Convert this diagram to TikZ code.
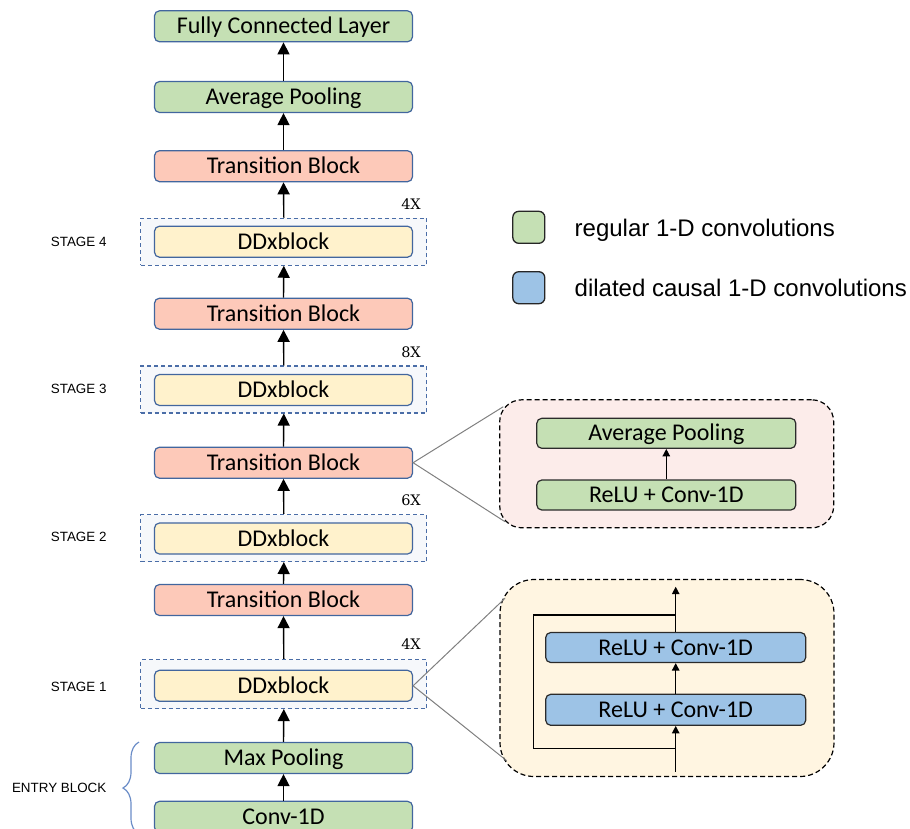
\documentclass[tikz,border=0pt]{standalone}
\usepackage{fontspec}
\setmainfont{Carlito}
\newfontfamily\arialf{Liberation Sans}
\newfontfamily\seriff{DejaVu Serif}
\usetikzlibrary{arrows.meta,decorations.pathreplacing}
\definecolor{greenf}{HTML}{C5E0B4}
\definecolor{pinkf}{HTML}{FDC9B9}
\definecolor{yellowf}{HTML}{FFF2CC}
\definecolor{bluef}{HTML}{9DC3E6}
\definecolor{bordc}{HTML}{42669E}
\definecolor{dashc}{HTML}{4A6DA7}
\definecolor{stagef}{HTML}{F6F8FB}
\definecolor{panelpink}{HTML}{FCECEA}
\definecolor{panelyellow}{HTML}{FFF5E1}
\definecolor{innerc}{HTML}{2B2B2B}
\definecolor{zoomc}{HTML}{808080}
\definecolor{bracec}{HTML}{6A8CC7}
\begin{document}
\begin{tikzpicture}[x=1pt,y=-1pt,
  blk/.style={draw=bordc, line width=1.2pt, rounded corners=5pt, minimum width=258pt, minimum height=31pt, inner sep=0pt, font=\fontsize{24}{28}\selectfont, text height=17pt, text depth=2pt},
  gbox/.style={blk, fill=greenf},
  pbox/.style={blk, fill=pinkf},
  ybox/.style={blk, fill=yellowf},
  stagebox/.style={draw=dashc, dash pattern=on 4pt off 3pt, line width=1.1pt, fill=stagef, minimum width=286pt, minimum height=47pt, inner sep=0pt},
  arr/.style={-{Triangle[width=12pt,length=12pt]}, line width=1.4pt},
  sarr/.style={-{Triangle[width=7.5pt,length=7.5pt]}, line width=1.3pt},
  stagelbl/.style={font=\arialf\fontsize{13.4}{16}\selectfont, inner sep=0pt},
  rep/.style={font=\seriff\fontsize{14.5}{18}\selectfont, anchor=east, inner sep=0pt},
  panel/.style={draw=black, dash pattern=on 5pt off 3pt, line width=1.2pt, inner sep=0pt},
  ibox/.style={draw=innerc, line width=1.2pt, rounded corners=5pt, minimum width=259pt, minimum height=30pt, inner sep=0pt, font=\fontsize{24}{28}\selectfont, text height=17pt, text depth=2pt},
  legsq/.style={draw=black!85, line width=1.3pt, rounded corners=6pt, minimum size=32pt, inner sep=0pt},
  legtxt/.style={font=\arialf\fontsize{24}{29}\selectfont, inner sep=0pt, anchor=base west},
  zoomline/.style={draw=zoomc, line width=1pt}
]
\useasboundingbox (0,0) rectangle (910,828);
\clip (0,0) rectangle (910,828);

% main column
\node[gbox] (fc) at (283.5,26.3) {Fully Connected Layer};
\node[gbox] (ap) at (283.5,97) {Average Pooling};
\node[pbox] (tb4) at (283.5,166.2) {Transition Block};
\node[stagebox] (s4) at (283.8,241.7) {};
\node[ybox] (dd4) at (283.5,241.7) {DDxblock};
\node[pbox] (tb3) at (283.5,313.7) {Transition Block};
\node[stagebox] (s3) at (283.8,389.5) {};
\node[ybox] (dd3) at (283.5,390) {DDxblock};
\node[pbox] (tb2) at (283.5,462.7) {Transition Block};
\node[stagebox] (s2) at (283.8,538) {};
\node[ybox] (dd2) at (283.5,538.5) {DDxblock};
\node[pbox] (tb1) at (283.5,600) {Transition Block};
\node[stagebox, minimum height=49pt] (s1) at (283.8,684) {};
\node[ybox] (dd1) at (283.5,685.8) {DDxblock};
\node[gbox] (mp) at (283.5,758) {Max Pooling};
\node[gbox] (cv) at (283.5,816.8) {Conv-1D};

\draw[arr] (cv.north) -- (mp.south);
\draw[arr] (mp.north) -- (s1.south);
\draw[arr] (s1.north) -- (tb1.south);
\draw[arr] (tb1.north) -- (s2.south);
\draw[arr] (s2.north) -- (tb2.south);
\draw[arr] (tb2.north) -- (s3.south);
\draw[arr] (s3.north) -- (tb3.south);
\draw[arr] (tb3.north) -- (s4.south);
\draw[arr] (s4.north) -- (tb4.south);
\draw[arr] (tb4.north) -- (ap.south);
\draw[arr] (ap.north) -- (fc.south);

% repeat labels
\node[rep] (r4) at (421,204) {4X};
\node[rep] (r3) at (421,352.7) {8X};
\node[rep] (r2) at (421,500.7) {6X};
\node[rep] (r1) at (421,644) {4X};

% stage labels
\node[stagelbl] (l4) at (78.7,242) {STAGE 4};
\node[stagelbl] (l3) at (78.7,389.3) {STAGE 3};
\node[stagelbl] (l2) at (78.7,537.3) {STAGE 2};
\node[stagelbl] (l1) at (78.7,686.7) {STAGE 1};
\node[stagelbl] (le) at (59.2,787.7) {ENTRY BLOCK};
\draw[decorate, decoration={brace, amplitude=16pt}, draw=bracec, line width=1.2pt] (139,834) -- (139,742);

% legend
\node[legsq, fill=greenf] (lg) at (528.8,227.3) {};
\node[legsq, fill=bluef] (lb) at (528.8,287.7) {};
\node[legtxt] (lgt) at (574.5,236) {regular 1-D convolutions};
\node[legtxt] (lbt) at (574.5,296) {dilated causal 1-D convolutions};

% transition detail panel
\node[panel, fill=panelpink, rounded corners=22pt, minimum width=334pt, minimum height=128pt] (tp) at (666.7,463.8) {};
\node[ibox, fill=greenf] (tap) at (666.3,433.3) {Average Pooling};
\node[ibox, fill=greenf] (trc) at (666.3,495) {ReLU + Conv-1D};
\draw[sarr] (trc.north) -- (tap.south);
\coordinate (tz1) at (503.3,406.7);
\coordinate (tz2) at (505,521.7);
\draw[zoomline] (tz1) -- (tb2.east) -- (tz2);

% DDx detail panel
\node[panel, fill=panelyellow, rounded corners=34pt, minimum width=334pt, minimum height=197pt] (dp) at (667,678) {};
\node[ibox, fill=bluef, minimum width=260pt] (du) at (675.7,647.5) {ReLU + Conv-1D};
\node[ibox, fill=bluef, minimum width=260pt, minimum height=31pt] (dl) at (675.7,709.8) {ReLU + Conv-1D};
\coordinate (din) at (675.7,771.7);
\coordinate (dout) at (675.7,586.7);
\coordinate (sk1) at (675.7,748.3);
\coordinate (sk2) at (533.3,615);
\coordinate (sk3) at (675.7,615);
\draw[sarr] (din) -- (dl.south);
\draw[sarr] (dl.north) -- (du.south);
\draw[sarr] (du.north) -- (dout);
\draw[line width=1.2pt] (sk1) -| (sk2) -- (sk3);
\coordinate (dz1) at (505,598.3);
\coordinate (dz2) at (506.7,760.7);
\draw[zoomline] (dz1) -- (dd1.east) -- (dz2);
\end{tikzpicture}
\end{document}
